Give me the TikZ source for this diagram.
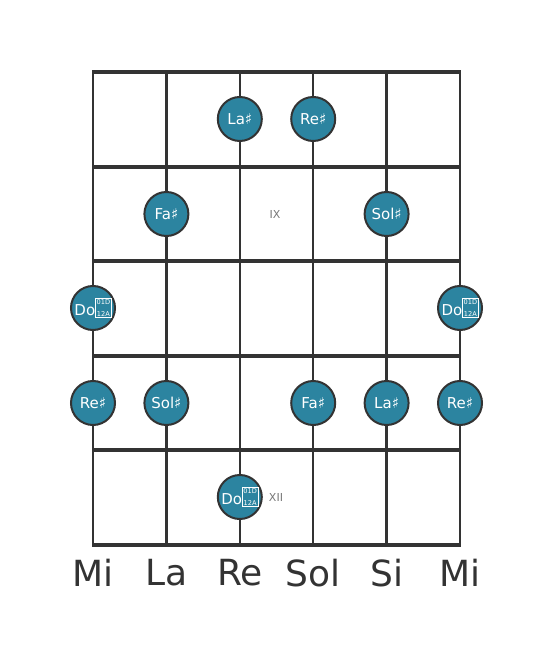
\documentclass[tikz,border=0pt]{standalone}
\usepackage{fontspec}
\setmainfont{DejaVu Sans}
\definecolor{fretgray}{HTML}{333333}
\definecolor{noteteal}{HTML}{2C84A0}
\definecolor{markgray}{HTML}{777777}
% missing-glyph box for the double sharp, as the reference shows it
\newcommand{\dblsharpbox}{\raisebox{-0.3pt}{\setlength{\fboxsep}{0.4pt}\setlength{\fboxrule}{0.3pt}%
  \fbox{\fontsize{3.3}{3.4}\selectfont\shortstack{01D\\[0.5pt]12A}}}}
\tikzset{
  note/.style={circle, draw=fretgray, line width=1pt, fill=noteteal,
    minimum size=22pt, inner sep=0pt, text=white, font=\fontsize{7.5}{8}\selectfont},
  fretmark/.style={text=markgray, font=\fontsize{5.5}{6}\selectfont},
  stringname/.style={text=fretgray, font=\fontsize{18}{20}\selectfont}
}
\begin{document}
\begin{tikzpicture}[x=0.5pt, y=-0.5pt]
  \useasboundingbox (0,0) rectangle (553,656);
  % strings
  \foreach \s/\x in {1/93, 2/166.4, 3/239.8, 4/313.2, 5/386.6, 6/460}
    \draw [fretgray, line width=1.25pt] (\x,72) -- (\x,545);
  % frets
  \foreach \y in {72, 166.6, 261.2, 355.8, 450.4, 545}
    \draw [fretgray, line width=2pt] (92,\y) -- (461,\y);
  % fret markers
  \node[fretmark] (IX) at (275,214) {IX};
  \node[fretmark] (XII) at (276,497) {XII};
  % notes
  \node[note] (LaA)  at (239.8,119) {La♯};
  \node[note] (ReA)  at (313.2,119) {Re♯};
  \node[note] (FaA)  at (166.4,214) {Fa♯};
  \node[note] (SolA) at (386.6,214) {Sol♯};
  \node[note] (DoA)  at (93,308)    {Do\dblsharpbox};
  \node[note] (DoB)  at (460,308)   {Do\dblsharpbox};
  \node[note] (ReB)  at (93,403)    {Re♯};
  \node[note] (SolB) at (166.4,403) {Sol♯};
  \node[note] (FaB)  at (313.2,403) {Fa♯};
  \node[note] (LaB)  at (386.6,403) {La♯};
  \node[note] (ReC)  at (460,403)   {Re♯};
  \node[note] (DoC)  at (239.8,497) {Do\dblsharpbox};
  % open strings
  \node[stringname] (Mi)  at (93,573)    {Mi};
  \node[stringname] (La)  at (166.4,573) {La};
  \node[stringname] (Re)  at (239.8,573) {Re};
  \node[stringname] (Sol) at (313.2,573) {Sol};
  \node[stringname] (Si)  at (386.6,573) {Si};
  \node[stringname] (MiH) at (460,573)   {Mi};
\end{tikzpicture}
\end{document}
